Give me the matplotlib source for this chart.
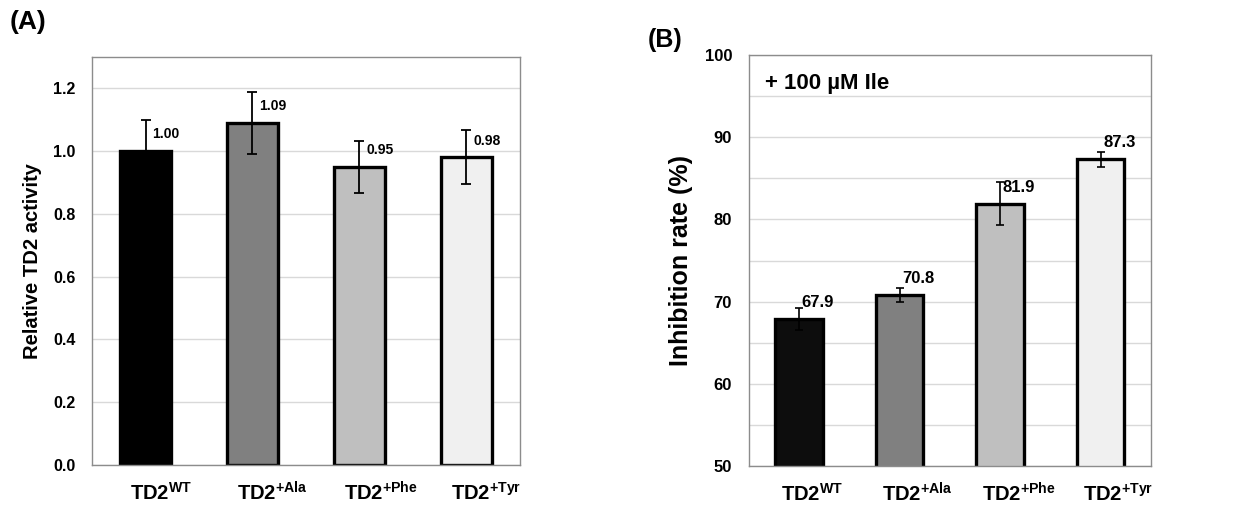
import matplotlib.pyplot as plt
import matplotlib.ticker as ticker
import matplotlib.transforms as mtransforms

plt.rcParams["font.family"] = ["Liberation Sans", "DejaVu Sans"]
plt.rcParams["font.weight"] = "bold"
plt.rcParams["mathtext.fontset"] = "custom"
plt.rcParams["mathtext.bf"] = "Liberation Sans:bold"
plt.rcParams["mathtext.rm"] = "Liberation Sans:bold"

labels = [r"TD2$^{\mathbf{WT}}$", r"TD2$^{\mathbf{+Ala}}$",
          r"TD2$^{\mathbf{+Phe}}$", r"TD2$^{\mathbf{+Tyr}}$"]

act = [1.00, 1.09, 0.95, 0.98]
act_err = [0.10, 0.10, 0.083, 0.086]
act_text = ["1.00", "1.09", "0.95", "0.98"]

inh = [67.9, 70.8, 81.9, 87.3]
inh_err = [1.3, 0.9, 2.6, 0.9]
inh_text = ["67.9", "70.8", "81.9", "87.3"]

colors_a = ["#000000", "#808080", "#bfbfbf", "#f0f0f0"]
colors_b = ["#0d0d0d", "#808080", "#bfbfbf", "#f0f0f0"]

fig = plt.figure(figsize=(12.52, 5.08), dpi=100)
ax1 = fig.add_axes([0.0735, 0.0846, 0.3418, 0.8032])
ax2 = fig.add_axes([0.598, 0.0827, 0.3213, 0.809])

x = range(len(labels))


def style(ax, ytick_size, xshift_px):
    for s in ax.spines.values():
        s.set_color("#8c8c8c")
        s.set_linewidth(1.0)
    ax.tick_params(axis="both", which="both", length=0)
    ax.tick_params(axis="y", pad=12, labelsize=ytick_size)
    ax.tick_params(axis="x", pad=12, labelsize=14.5)
    ax.set_xlim(-0.5, 3.5)
    ax.set_xticks(list(x))
    ax.set_xticklabels(labels, fontweight="bold")
    # labels start a little right of each bar's left edge
    shift = mtransforms.ScaledTranslation(xshift_px / 100, 0, fig.dpi_scale_trans)
    for t in ax.get_xticklabels():
        t.set_horizontalalignment("left")
        t.set_transform(t.get_transform() + shift)
    ax.grid(axis="y", which="both", color="#d9d9d9", linewidth=1.0)
    ax.set_axisbelow(True)
    for t in ax.get_yticklabels():
        t.set_fontweight("bold")


# ── Panel A ──────────────────────────────────────────────────────────────────
ax1.bar(x, act, width=0.47, color=colors_a, edgecolor="black", linewidth=2.4,
        yerr=act_err, capsize=3.5, error_kw=dict(elinewidth=1.3, capthick=1.3), zorder=2)
for xi, v, t in zip(x, act, act_text):
    ax1.annotate(t, (xi, v), textcoords="offset points", xytext=(5, 12),
                 ha="left", va="center", fontsize=10, fontweight="bold")
ax1.set_ylim(0, 1.3)
ax1.yaxis.set_major_locator(ticker.MultipleLocator(0.2))
ax1.yaxis.set_major_formatter(ticker.FormatStrFormatter("%.1f"))
style(ax1, 11.5, -15.5)
ax1.set_ylabel("Relative TD2 activity", fontsize=14.5, fontweight="bold", labelpad=8)
fig.text(0.008, 0.98, "(A)", fontsize=19, fontweight="bold", va="top")

# ── Panel B ──────────────────────────────────────────────────────────────────
ax2.bar(x, inh, width=0.47, color=colors_b, edgecolor="black", linewidth=2.4,
        yerr=inh_err, capsize=3, error_kw=dict(elinewidth=1.2, capthick=1.2), zorder=2)
for xi, v, t in zip(x, inh, inh_text):
    ax2.annotate(t, (xi, v), textcoords="offset points", xytext=(2, 12),
                 ha="left", va="center", fontsize=12, fontweight="bold")
ax2.set_ylim(50, 100)
ax2.yaxis.set_major_locator(ticker.MultipleLocator(10))
ax2.yaxis.set_minor_locator(ticker.MultipleLocator(5))
style(ax2, 12, -18)
ax2.set_ylabel("Inhibition rate (%)", fontsize=18, fontweight="bold", labelpad=8)
ax2.text(0.04, 0.93, "+ 100 µM Ile", transform=ax2.transAxes, fontsize=16,
         fontweight="bold", va="center")
fig.text(0.517, 0.945, "(B)", fontsize=18, fontweight="bold", va="top")

fig.savefig("out.png", dpi=100)
